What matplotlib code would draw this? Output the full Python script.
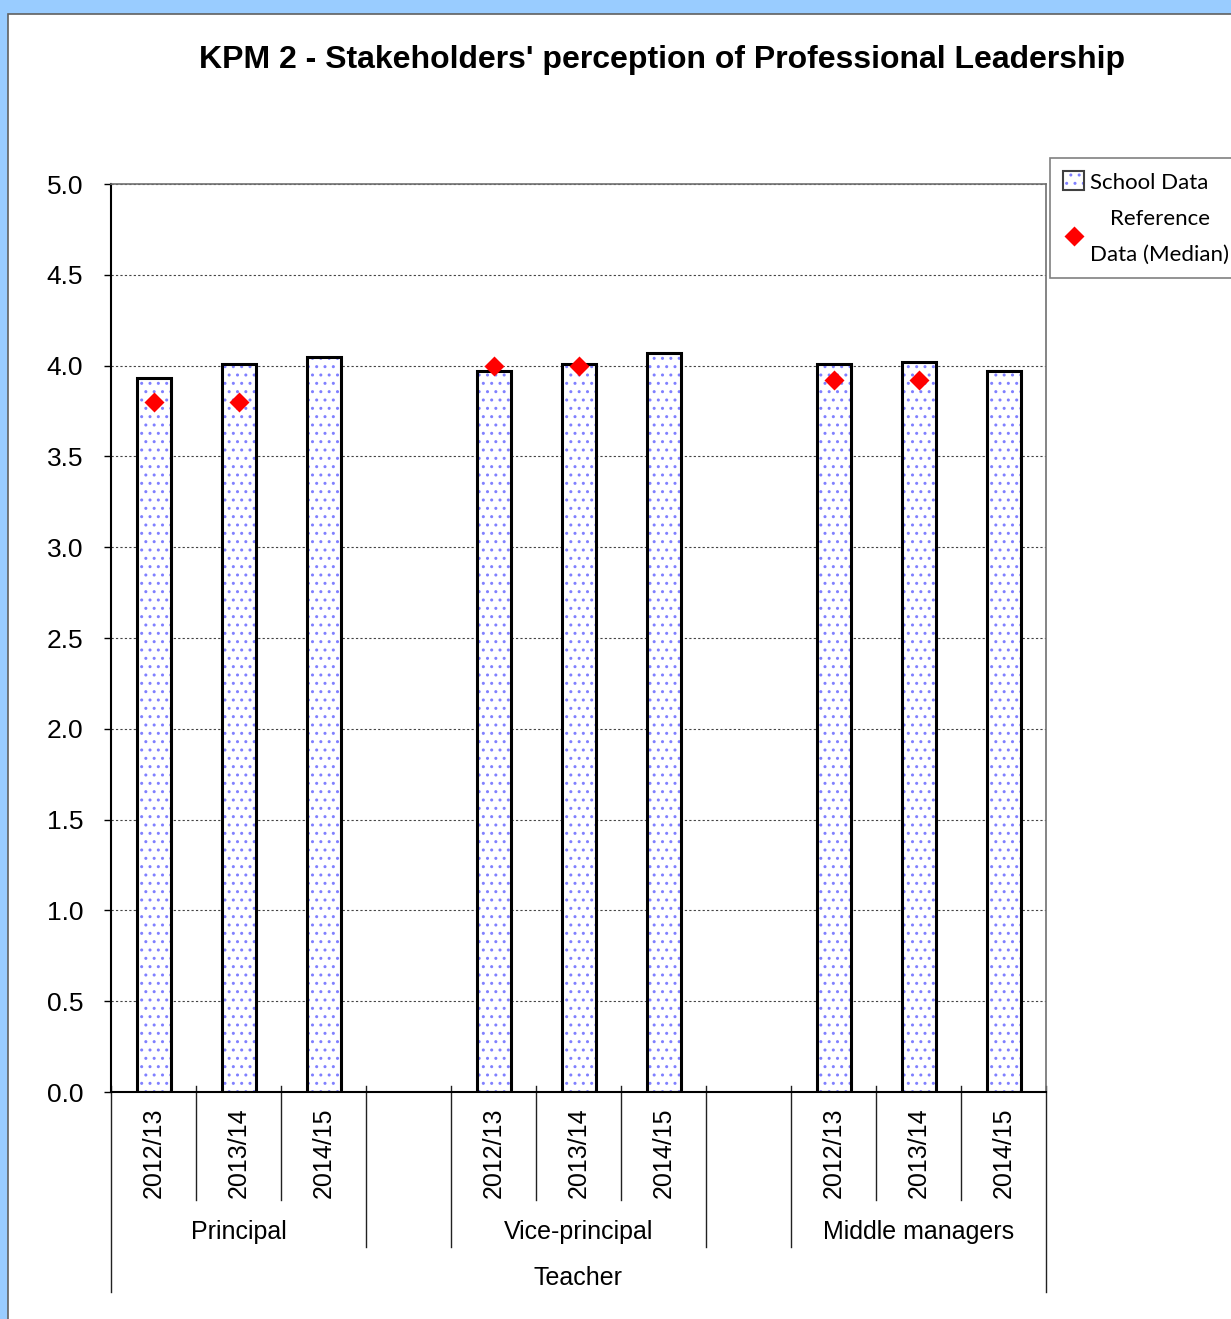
import numpy as np
import matplotlib.pyplot as plt
from matplotlib.patches import Rectangle
from matplotlib.lines import Line2D
from matplotlib.legend_handler import HandlerTuple
import matplotlib.transforms as mtransforms

# data
groups = ["Principal", "Vice-principal", "Middle managers"]
years = ["2012/13", "2013/14", "2014/15"]
school = [[3.93, 4.01, 4.05],
          [3.97, 4.01, 4.07],
          [4.01, 4.02, 3.97]]
reference = [[3.80, 3.80, np.nan],
             [4.00, 4.00, np.nan],
             [3.92, 3.92, np.nan]]
outer_label = "Teacher"
title = "KPM 2 - Stakeholders' perception of Professional Leadership"

plt.rcParams['font.family'] = ['Liberation Sans', 'DejaVu Sans']

W, H = 1231, 1319
fig = plt.figure(figsize=(W / 100, H / 100), dpi=100, facecolor='#99CCFF')

# white panel
panel = Rectangle((8 / W, -0.01), 1.0, (H - 14) / H + 0.01, transform=fig.transFigure,
                  facecolor='white', edgecolor='#606060', lw=1.2, zorder=-10)
fig.add_artist(panel)

ax = fig.add_axes([111 / W, (H - 1092) / H, 935 / W, 908 / H])

# slot positions: 3 bars per group, one empty slot between groups
xpos, vals, refs, labels = [], [], [], []
for g in range(len(groups)):
    for i in range(len(years)):
        xpos.append(g * 4 + i)
        vals.append(school[g][i])
        refs.append(reference[g][i])
        labels.append(years[i])

bw = 0.4
ax.bar(xpos, vals, width=bw, facecolor='white', edgecolor='#8080ff', hatch='..',
       lw=0, zorder=2)
ax.bar(xpos, vals, width=bw, fill=False, edgecolor='black', lw=2.2, zorder=3)
ax.plot(xpos, refs, ls='none', marker='D', ms=10, color='red', mec='none', zorder=4)

ax.set_xlim(-0.5, 10.5)
ax.set_ylim(0, 5)
ax.set_yticks(np.arange(0, 5.01, 0.5))
ax.set_yticklabels([f"{v:.1f}" for v in np.arange(0, 5.01, 0.5)])
ax.tick_params(axis='y', labelsize=19, length=5, pad=15, width=1)
ax.set_xticks(xpos)
ax.set_xticklabels(labels, rotation=90, fontsize=18)
ax.tick_params(axis='x', length=0, pad=11)
ax.yaxis.grid(True, ls=(0, (2, 2)), color='#444444', lw=0.8)
ax.set_axisbelow(True)

for s in ['left', 'bottom']:
    ax.spines[s].set_linewidth(1.5)
    ax.spines[s].set_color('black')
for s in ['top', 'right']:
    ax.spines[s].set_linewidth(1.2)
    ax.spines[s].set_color('#707070')

# category separators below the axis
tr = mtransforms.blended_transform_factory(ax.transData, ax.transAxes)
top = 6 / 908
for b in np.arange(-0.5, 10.6, 1.0):
    if b in (-0.5, 10.5):
        y0 = -(1292 - 1092) / 908
    elif b in (2.5, 3.5, 6.5, 7.5):
        y0 = -(1247 - 1092) / 908
    else:
        y0 = -(1200 - 1092) / 908
    ax.plot([b, b], [top, y0], transform=tr, color='#222222', lw=1, clip_on=False)

for g, name in enumerate(groups):
    ax.text(g * 4 + 1, -(1232 - 1092) / 908, name, transform=tr, ha='center',
            va='center', fontsize=18)
ax.text(5, -(1278 - 1092) / 908, outer_label, transform=tr, ha='center',
        va='center', fontsize=18)

fig.text(662 / W, 1 - 60 / H, title, ha='center', va='center', fontsize=23,
         fontweight='bold')

# legend
h1 = (Rectangle((0, 0), 1, 1, facecolor='white', edgecolor='#8080ff', hatch='..', lw=0),
      Rectangle((0, 0), 1, 1, fill=False, edgecolor='#404040', lw=1.5))
h2 = Line2D([], [], ls='none', marker='D', ms=10, color='red', mec='none')
leg = fig.legend([h1, h2], ["School Data", "Reference\nData (Median)"],
                 handler_map={tuple: HandlerTuple(ndivide=1)},
                 loc='upper left', bbox_to_anchor=(1050 / W, 1 - 158 / H),
                 bbox_transform=fig.transFigure,
                 prop={'family': 'Lato', 'size': 16}, fancybox=False,
                 edgecolor='#808080', framealpha=1, handlelength=0.95,
                 handleheight=0.95, handletextpad=0.25, borderpad=0.6,
                 labelspacing=0.75, borderaxespad=0)
leg.get_frame().set_linewidth(1.2)
for t in leg.get_texts():
    t.set_linespacing(1.95)
leg.get_texts()[1].set_multialignment('center')

fig.savefig("out.png", dpi=100, facecolor=fig.get_facecolor())
